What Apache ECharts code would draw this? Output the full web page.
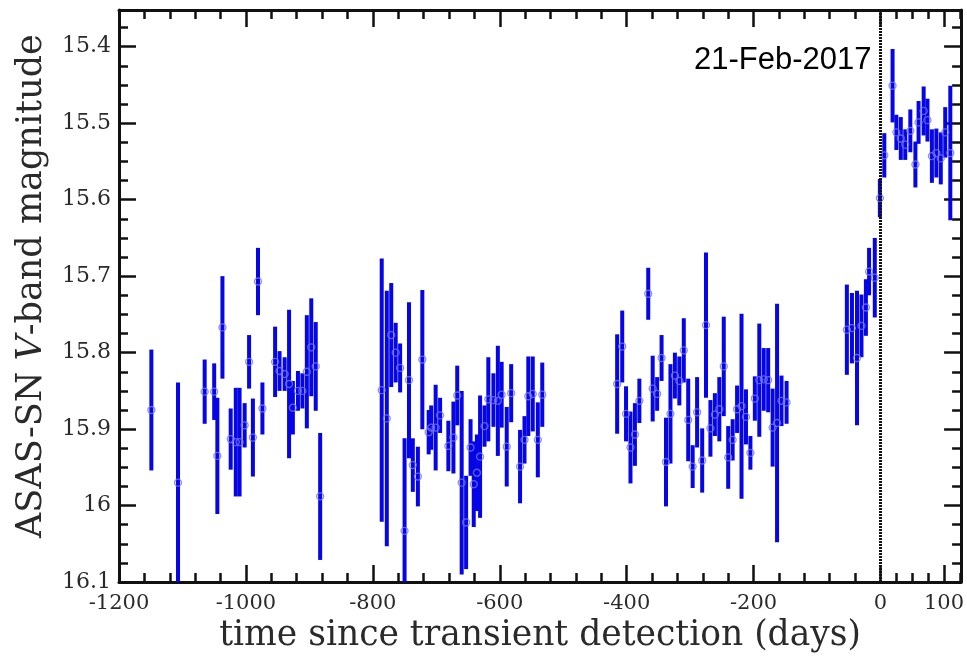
<!DOCTYPE html>
<html>
<head>
<meta charset="utf-8">
<script src="https://cdn.jsdelivr.net/npm/echarts@6/dist/echarts.min.js"></script>
<style>html,body{margin:0;padding:0;background:#fff}#c{width:967px;height:659px}</style>
</head>
<body>
<div id="c"></div>
<script>
// ---- data: days since detection, V magnitude, 1-sigma error ----
const days = [
  -1149,-1107,-1065,-1050,-1045,-1037,-1024,-1016,-1010,-1002,-995,-989,-981,-974,-954,-947,-939,-932,-926,-918,-911,-904,-897,-890,-883,
  -786,-778,-771,-764,-757,-750,-743,-737,-729,-722,-712,-708,-701,-694,-681,-673,-667,-660,-653,-646,-641,-636,-631,-624,-618,-610,-603,-597,-589,-582,-568,-561,-555,-548,-540,-533,
  -415,-407,-401,-394,-387,-380,-366,-359,-352,-345,-338,-331,-324,-317,-310,-303,-296,-289,-281,-275,-268,-261,-254,-247,-240,-233,-226,-219,-212,-205,-198,-191,-184,-177,-170,-163,-156,-148,
  -53,-45,-37,-30,-23,-18,-9,-1,
  6,19,25,32,39,47,55,60,68,74,81,88,95,102,110
];
const mags = [
  15.875,15.970,15.851,15.851,15.935,15.767,15.913,15.917,15.917,15.895,15.812,15.911,15.707,15.873,15.812,15.824,15.828,15.841,15.872,15.850,15.850,15.825,15.793,15.818,15.988,
  15.849,15.886,15.777,15.800,15.820,16.033,15.836,15.947,15.962,15.809,15.904,15.898,15.898,15.882,15.922,15.911,15.856,15.970,16.022,15.924,15.972,15.957,15.936,15.896,15.861,15.862,15.863,15.855,15.923,15.853,15.949,15.914,15.857,15.854,15.914,15.855,
  15.841,15.792,15.880,15.924,15.907,15.863,15.723,15.847,15.854,15.807,15.943,15.880,15.830,15.837,15.797,15.888,15.949,15.878,15.941,15.764,15.899,15.881,15.874,15.818,15.937,15.914,15.874,15.870,15.884,15.931,15.860,15.836,15.835,15.836,15.898,15.892,15.863,15.865,
  15.770,15.768,15.807,15.765,15.741,15.694,15.702,15.598,
  15.542,15.451,15.512,15.520,15.528,15.510,15.554,15.499,15.484,15.496,15.543,15.539,15.546,15.512,15.539
];
const errs = [
  0.079,0.131,0.042,0.037,0.076,0.067,0.040,0.071,0.071,0.029,0.035,0.051,0.044,0.034,0.046,0.026,0.022,0.097,0.035,0.026,0.023,0.074,0.064,0.058,0.083,
  0.172,0.167,0.068,0.039,0.032,0.121,0.102,0.035,0.039,0.091,0.029,0.029,0.056,0.023,0.033,0.047,0.039,0.120,0.061,0.037,0.056,0.050,0.080,0.027,0.055,0.035,0.072,0.043,0.052,0.038,0.048,0.031,0.052,0.049,0.049,0.042,
  0.065,0.047,0.036,0.047,0.041,0.029,0.034,0.043,0.022,0.030,0.058,0.065,0.030,0.032,0.042,0.054,0.028,0.046,0.042,0.095,0.037,0.028,0.042,0.065,0.041,0.027,0.031,0.121,0.036,0.022,0.029,0.074,0.041,0.042,0.051,0.156,0.033,0.028,
  0.059,0.046,0.088,0.041,0.037,0.031,0.052,0.025,
  0.029,0.048,0.023,0.028,0.020,0.028,0.030,0.028,0.032,0.028,0.035,0.032,0.034,0.033,0.088
];
// ---- axis ticks / labels ----
const xLabels = [-1200,-1000,-800,-600,-400,-200,0,100];
const xMajorTicks = [-1200,-1000,-800,-600,-400,-200,0,100];
const xMinorTicks = [-1160,-1120,-1080,-1040,-960,-920,-880,-840,-760,-720,-680,-640,-560,-520,-480,-440,-360,-320,-280,-240,-160,-120,-80,-40,25,50,75,125];
const yLabels = [15.4,15.5,15.6,15.7,15.8,15.9,16,16.1];
const yMinorTicks = [15.375,15.425,15.45,15.475,15.525,15.55,15.575,15.625,15.65,15.675,15.725,15.75,15.775,15.825,15.85,15.875,15.925,15.95,15.975,16.025,16.05,16.075];
const detectionDay = 0;
const detectionLabel = '21-Feb-2017';

const X_MIN = -1200, X_MAX = 127, Y_MIN = 15.352, Y_MAX = 16.1;
const BAR = '#0505e6';
const serif = 'DejaVu Serif';
const axisColor = '#111';
const lblColor = '#2a2a2a';

const pts = days.map((d, i) => [d, mags[i], errs[i]]);

function xAx(pos, major, showLabel, showLine) {
  return {
    type: 'value', min: X_MIN, max: X_MAX, position: pos,
    axisLine: { show: showLine, onZero: false, lineStyle: { color: axisColor, width: 3 } },
    splitLine: { show: false },
    axisTick: { show: true, inside: true, length: major ? 17 : 9,
      customValues: major ? xMajorTicks : xMinorTicks,
      lineStyle: { color: axisColor, width: 2.5 } },
    axisLabel: { show: showLabel, customValues: xLabels, formatter: v => String(v),
      fontFamily: serif, fontSize: 21, color: lblColor, margin: 11 }
  };
}
function yAx(pos, major, showLabel, showLine) {
  return {
    type: 'value', min: Y_MIN, max: Y_MAX, inverse: true, position: pos,
    axisLine: { show: showLine, onZero: false, lineStyle: { color: axisColor, width: 3 } },
    splitLine: { show: false },
    axisTick: { show: true, inside: true, length: major ? 17 : 9,
      customValues: major ? yLabels : yMinorTicks,
      lineStyle: { color: axisColor, width: 2.5 } },
    axisLabel: { show: showLabel, customValues: yLabels, formatter: v => String(+v.toFixed(2)),
      fontFamily: serif, fontSize: 22, color: lblColor, margin: 8 }
  };
}

const xAxes = [xAx('bottom', true, true, true), xAx('bottom', false, false, false), xAx('top', true, false, true), xAx('top', false, false, false)];
Object.assign(xAxes[0], {
  name: 'time since transient detection (days)', nameLocation: 'middle', nameGap: 26,
  nameTextStyle: { fontFamily: serif, fontSize: 34.5, color: lblColor }
});
const yAxes = [yAx('left', true, true, true), yAx('left', false, false, false), yAx('right', true, false, true), yAx('right', false, false, false)];
Object.assign(yAxes[0], {
  name: '{a|ASAS-SN }{b|V}{a|-band magnitude}', nameLocation: 'middle', nameGap: 70, nameRotate: 90,
  nameTextStyle: { color: lblColor, padding: [0, 0, 0, 20], rich: {
    a: { fontFamily: serif, fontSize: 35, color: lblColor },
    b: { fontFamily: serif, fontSize: 35, fontStyle: 'italic', color: lblColor } } }
});

const chart = echarts.init(document.getElementById('c'), null, { renderer: 'canvas' });
chart.setOption({
  animation: false,
  backgroundColor: '#fff',
  grid: { left: 119, right: 5, top: 10, bottom: 75.5 },
  xAxis: xAxes,
  yAxis: yAxes,
  series: [
    {
      type: 'custom', xAxisIndex: 0, yAxisIndex: 0, clip: true, z: 2,
      data: pts,
      renderItem: function (params, api) {
        const x = api.value(0), y = api.value(1), e = api.value(2);
        const a = api.coord([x, y - e]);
        const b = api.coord([x, y + e]);
        return { type: 'line', shape: { x1: a[0], y1: a[1], x2: b[0], y2: b[1] },
          style: { stroke: BAR, lineWidth: 4 } };
      }
    },
    {
      type: 'scatter', xAxisIndex: 0, yAxisIndex: 0, z: 3,
      data: pts.map(p => [p[0], p[1]]),
      symbol: 'circle', symbolSize: 7,
      itemStyle: { color: 'rgba(0,0,0,0)', borderColor: '#7070ff', borderWidth: 1.3 },
      markLine: {
        silent: true, symbol: ['none', 'none'], label: { show: false },
        lineStyle: { color: '#111', type: [2, 1], width: 3 },
        data: [{ xAxis: detectionDay }]
      },
      markPoint: {
        silent: true,
        data: [{ coord: [detectionDay, 15.418], symbol: 'circle', symbolSize: 0,
          label: { show: true, position: 'left', distance: 9, formatter: detectionLabel,
            fontFamily: 'Liberation Sans', fontSize: 31, color: '#000' } }]
      }
    }
  ]
});
</script>
</body>
</html>
